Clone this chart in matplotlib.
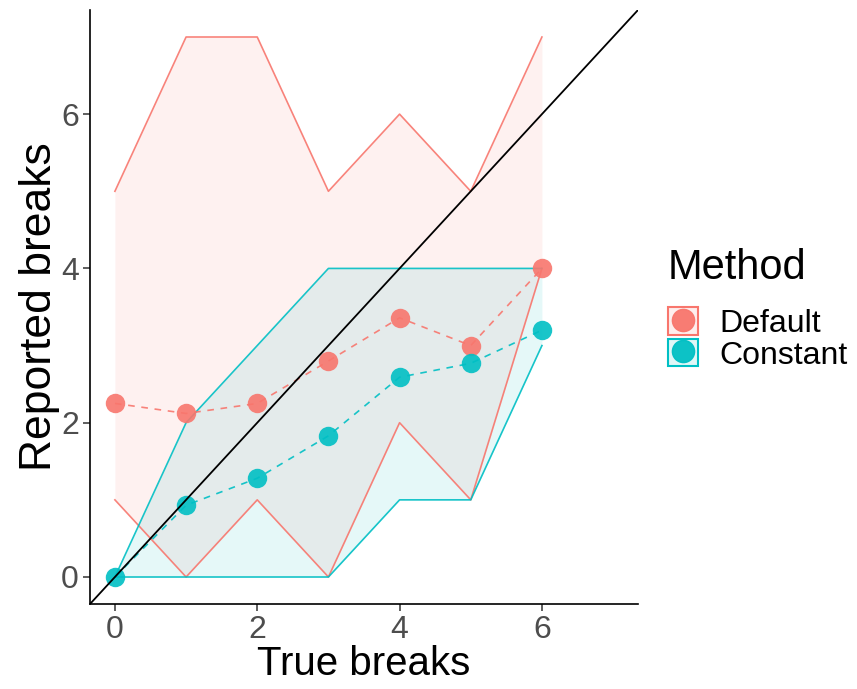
import matplotlib
matplotlib.use("Agg")
import matplotlib.pyplot as plt
from matplotlib.patches import Patch
from matplotlib.lines import Line2D
from matplotlib.legend_handler import HandlerTuple

plt.rcParams['font.family'] = ['Liberation Sans', 'DejaVu Sans']

true_breaks = [0, 1, 2, 3, 4, 5, 6]
methods = ["Default", "Constant"]
colors = {"Default": "#F8766D", "Constant": "#00BFC4"}

default_mean = [2.25, 2.12, 2.25, 2.8, 3.36, 3.0, 4.0]
default_low = [1, 0, 1, 0, 2, 1, 4]
default_high = [5, 7, 7, 5, 6, 5, 7]

constant_mean = [0, 0.93, 1.28, 1.83, 2.59, 2.77, 3.2]
constant_low = [0, 0, 0, 0, 1, 1, 3]
constant_high = [0, 2, 3, 4, 4, 4, 4]

series = {
    "Default": (default_mean, default_low, default_high),
    "Constant": (constant_mean, constant_low, constant_high),
}

fig = plt.figure(figsize=(8.57, 6.89), dpi=100)
ax = fig.add_axes([90/857, 1 - 604/689, (638 - 90)/857, (604 - 10)/689])

# ribbons
for m in methods:
    mean, lo, hi = series[m]
    c = colors[m]
    ax.fill_between(true_breaks, lo, hi, color=c, alpha=0.1, linewidth=0)
for m in methods:
    mean, lo, hi = series[m]
    c = colors[m]
    ax.plot(true_breaks, lo, color=c, lw=1.2, alpha=0.9)
    ax.plot(true_breaks, hi, color=c, lw=1.2, alpha=0.9)
# means
for m in methods:
    mean, lo, hi = series[m]
    c = colors[m]
    ax.plot(true_breaks, mean, color=c, lw=1.2, ls=(0, (4, 4)), alpha=0.9)
    ax.plot(true_breaks, mean, 'o', color=c, ms=14, mec='none', alpha=0.9)

ax.plot([-1, 9], [-1, 9], color='black', lw=1.3, zorder=5)

ax.set_xlim(-0.35, 7.35)
ax.set_ylim(-0.35, 7.35)
ax.set_xticks([0, 2, 4, 6])
ax.set_yticks([0, 2, 4, 6])
for s in ['top', 'right']:
    ax.spines[s].set_visible(False)
for s in ['left', 'bottom']:
    ax.spines[s].set_linewidth(1.2)
ax.tick_params(axis='both', length=5, width=1.1, color='#333333',
               labelsize=23, labelcolor='#4D4D4D', pad=3)
ax.set_xlabel("True breaks", fontsize=29, labelpad=0)
ax.set_ylabel("Reported breaks", fontsize=32, labelpad=1)

handles = []
for m in methods:
    c = colors[m]
    box = Patch(facecolor=c, alpha=0.12, edgecolor='none')
    edge = Patch(facecolor='none', edgecolor=c, lw=1.5)
    pt = Line2D([], [], marker='o', color=c, ms=16, ls='none', alpha=0.95)
    handles.append((box, edge, pt))
leg = fig.legend(handles, methods, handler_map={tuple: HandlerTuple(ndivide=1, pad=0)},
                 title="Method", loc='upper left', bbox_to_anchor=(668/857, 1 - 248/689),
                 frameon=False, fontsize=23, title_fontsize=30, handlelength=0.94,
                 handleheight=0.94, handletextpad=0.66, labelspacing=0.0,
                 borderaxespad=0, borderpad=0)
leg._legend_box.align = "left"
leg._legend_box.sep = 14

fig.savefig("out.png", dpi=100)
